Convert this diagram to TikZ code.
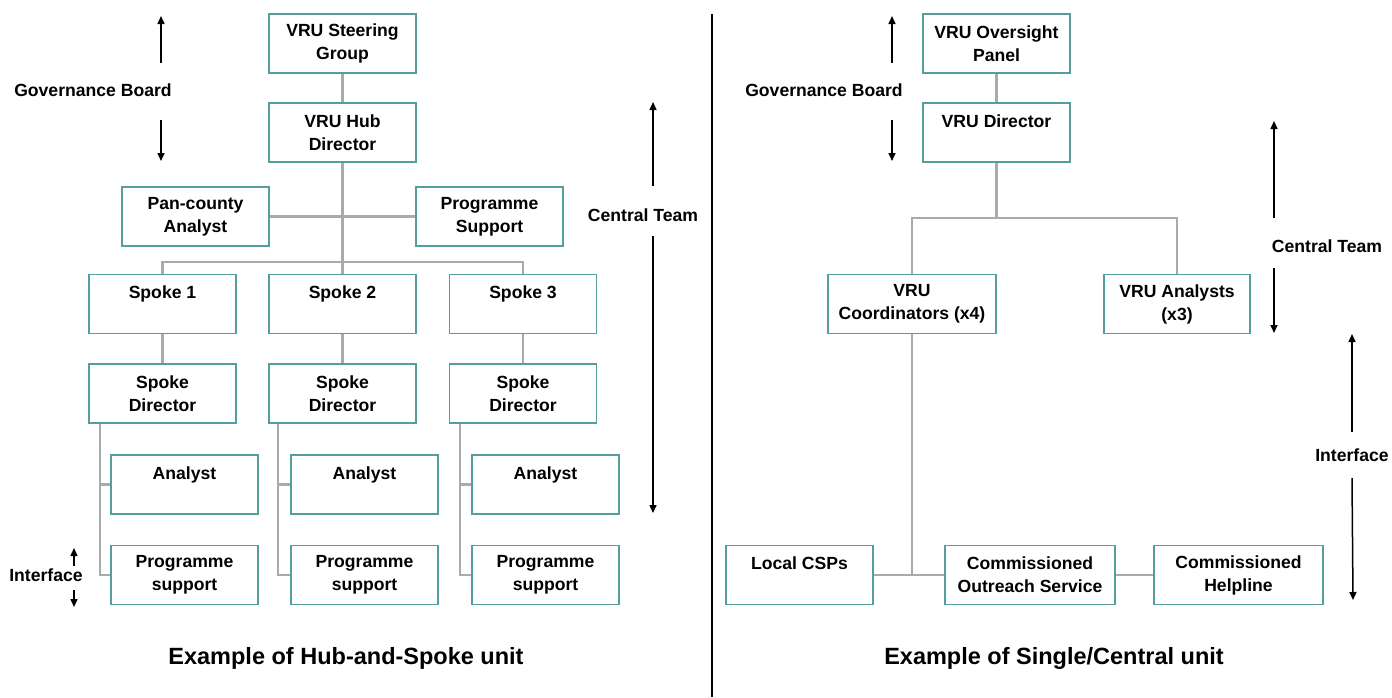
\documentclass[tikz,border=0pt]{standalone}
\usepackage{fontspec}
\setmainfont{Liberation Sans}
\usepackage{xcolor}
\usepackage{tikz}
\usetikzlibrary{calc}
\usetikzlibrary{arrows.meta}

\definecolor{boxteal}{RGB}{86,158,158}
\definecolor{linkgrey}{RGB}{170,170,170}

\begin{document}
\begin{tikzpicture}[x=1pt,y=-1pt,
		box/.style={draw=boxteal,line width=1.6pt,fill=white,minimum width=147pt,minimum height=59pt,inner sep=0pt,align=center,font=\fontsize{17.6}{23}\selectfont\bfseries},
		link/.style={draw=linkgrey,line width=2.2pt},
		arr/.style={line width=1.5pt,-{Triangle[length=8pt,width=7pt]}},
		lbl/.style={font=\fontsize{17.6}{21}\selectfont\bfseries},
		ttl/.style={font=\fontsize{23.5}{28}\selectfont\bfseries}]
		\useasboundingbox[fill=white] (0,0) rectangle (1392,697);
		
		\coordinate (bus) at (342.5,262);
		\coordinate (rbus) at (996.5,218);
		\coordinate (rjoin) at (912,575);
		
		\node[box] (steer) at (342.5,43.5) {VRU Steering\\Group};
		\node[box] (hub) at (342.5,132.5) {VRU Hub\\Director};
		\node[box] (pan) at (195.5,216.5) {Pan-county\\Analyst};
		\node[box] (progsup) at (489.5,216.5) {Programme\\Support};
		
		\node[box] (spoke1) at (162.5,304) {Spoke 1\\\mbox{}};
		\node[box] (spoke2) at (342.5,304) {Spoke 2\\\mbox{}};
		\node[box] (spoke3) at (523,304) {Spoke 3\\\mbox{}};
		
		\node[box] (sd1) at (162.5,393.5) {Spoke\\Director};
		\node[box] (sd2) at (342.5,393.5) {Spoke\\Director};
		\node[box] (sd3) at (523,393.5) {Spoke\\Director};
		
		\node[box] (an1) at (184.5,484.5) {Analyst\\\mbox{}};
		\node[box] (an2) at (364.5,484.5) {Analyst\\\mbox{}};
		\node[box] (an3) at (545.5,484.5) {Analyst\\\mbox{}};
		
		\node[box] (ps1) at (184.5,575) {Programme\\support};
		\node[box] (ps2) at (364.5,575) {Programme\\support};
		\node[box] (ps3) at (545.5,575) {Programme\\support};
		
		\node[box] (panel) at (996.5,43.5) {VRU Oversight\\Panel};
		\node[box] (dir) at (996.5,132.5) {VRU Director\\\mbox{}};
		\node[box,minimum width=168pt] (coord) at (912,304) {VRU\\Coordinators (x4)};
		\node[box,minimum width=146pt] (anl) at (1177,304) {VRU Analysts\\(x3)};
		\node[box] (csp) at (799.5,575) {Local CSPs\\\mbox{}};
		\node[box,minimum width=170pt] (outreach) at (1030,575) {Commissioned\\Outreach Service};
		\node[box,minimum width=169pt] (helpline) at (1238.5,575) {Commissioned\\Helpline};
		
		\draw[link] (steer) -- (hub);
		\draw[link] (hub.south) -- (bus);
		\draw[link] (pan) -- (progsup);
		\draw[link] (spoke1.north) |- (bus) -| (spoke3.north);
		\draw[link] (bus) -- (spoke2.north);
		\draw[link] (spoke1) -- (sd1);
		\draw[link] (spoke2) -- (sd2);
		\draw[link] (spoke3) -- (sd3);
		
		\draw[link] ([xshift=12pt]sd1.south west) |- (ps1.west);
		\draw[link] ([xshift=12pt]sd1.south west) |- (an1.west);
		\draw[link] ([xshift=10pt]sd2.south west) |- (ps2.west);
		\draw[link] ([xshift=10pt]sd2.south west) |- (an2.west);
		\draw[link] ([xshift=11pt]sd3.south west) |- (ps3.west);
		\draw[link] ([xshift=11pt]sd3.south west) |- (an3.west);
		
		\draw[link] (panel) -- (dir);
		\draw[link] (dir.south) -- (rbus);
		\draw[link] (coord.north) |- (rbus) -| (anl.north);
		\draw[link] (coord.south) -- (rjoin);
		\draw[link] (csp) -- (outreach);
		\draw[link] (outreach) -- (helpline);
		
		\node[lbl] (gov1) at (93,90) {Governance Board};
		\node[lbl] (cen1) at (643,215) {Central Team};
		\node[lbl] (int1) at (46,575) {Interface};
		\node[lbl] (gov2) at (824,90) {Governance Board};
		\node[lbl] (cen2) at (1327,246) {Central Team};
		\node[lbl] (int2) at (1352,455) {Interface};
		
		\coordinate (g1a) at (161,63);
		\coordinate (g1b) at (161,16);
		\coordinate (g1c) at (161,120);
		\coordinate (g1d) at (161,161);
		\coordinate (c1a) at (653,186);
		\coordinate (c1b) at (653,102);
		\coordinate (c1c) at (653,236);
		\coordinate (c1d) at (653,513);
		\coordinate (i1a) at (74,566);
		\coordinate (i1b) at (74,548);
		\coordinate (i1c) at (74,590);
		\coordinate (i1d) at (74,607);
		
		\coordinate (g2a) at (892,63);
		\coordinate (g2b) at (892,16);
		\coordinate (g2c) at (892,120);
		\coordinate (g2d) at (892,161);
		\coordinate (c2a) at (1274,218);
		\coordinate (c2b) at (1274,121);
		\coordinate (c2c) at (1274,268);
		\coordinate (c2d) at (1274,333);
		\coordinate (i2a) at (1352,432);
		\coordinate (i2b) at (1352,334);
		\coordinate (i2c) at (1352,478);
		\coordinate (i2d) at (1353,600);
		
		\draw[arr] (g1a) -- (g1b);
		\draw[arr] (g1c) -- (g1d);
		\draw[arr] (c1a) -- (c1b);
		\draw[arr] (c1c) -- (c1d);
		\draw[arr] (i1a) -- (i1b);
		\draw[arr] (i1c) -- (i1d);
		\draw[arr] (g2a) -- (g2b);
		\draw[arr] (g2c) -- (g2d);
		\draw[arr] (c2a) -- (c2b);
		\draw[arr] (c2c) -- (c2d);
		\draw[arr] (i2a) -- (i2b);
		\draw[arr] (i2c) -- (i2d);
		
		\coordinate (divtop) at (712,14);
		\coordinate (divbot) at (712,697);
		\draw[line width=1.3pt] (divtop) -- (divbot);
		
		\node[ttl] (title1) at (346,658) {Example of Hub-and-Spoke unit};
		\node[ttl] (title2) at (1054,658) {Example of Single/Central unit};
	\end{tikzpicture}
\end{document}
